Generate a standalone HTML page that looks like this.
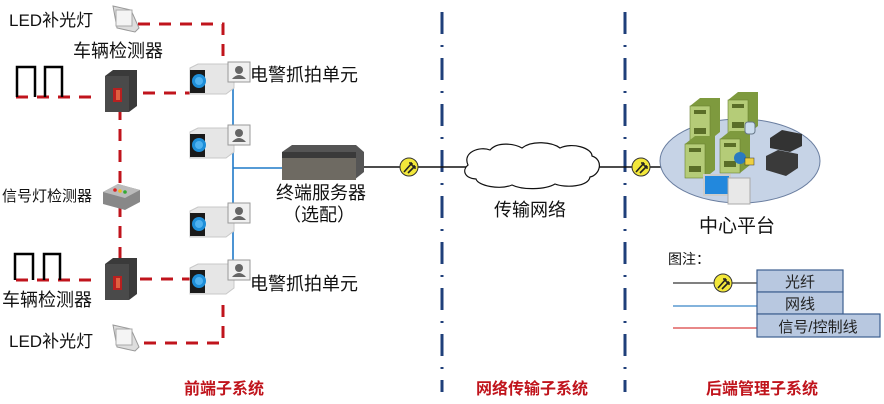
<!DOCTYPE html>
<html><head><meta charset="utf-8"><style>
body{margin:0;background:#fff}
svg{display:block;font-family:"Liberation Sans","Noto Sans CJK SC",sans-serif}
</style></head><body>
<svg width="884" height="404" viewBox="0 0 884 404" xmlns="http://www.w3.org/2000/svg">
<defs>
<g id="cam">
<path d="M0,4 L8,0 L44,0 L44,24 L36,30 L0,30 Z" fill="#e6e6e6" stroke="#c8c8c8"/>
<rect x="0" y="6" width="15" height="23" fill="#1a1a1a"/>
<circle cx="9" cy="17" r="7" fill="#1e8ed8"/>
<circle cx="9" cy="17" r="4" fill="#4fb2f0"/>
</g>
<g id="face">
<rect x="0" y="0" width="22" height="20" fill="#f0f0f0" stroke="#999"/>
<circle cx="11" cy="8" r="4" fill="#666"/>
<path d="M4,17 Q11,9 18,17 Z" fill="#666"/>
</g>
<g id="det">
<path d="M2,6 L10,0 L34,0 L34,36 L26,42 L2,42 Z" fill="#3a3a3a"/>
<path d="M2,6 L26,6 L26,42 L2,42Z" fill="#4a4a4a"/>
<rect x="10" y="18" width="9" height="14" fill="#b82020"/>
<rect x="13" y="20" width="4" height="10" fill="#e06040"/>
</g>
<g id="fib">
<circle r="9" fill="#f2e73a" stroke="#333" stroke-width="1"/>
<path d="M-5,5 L3,-4 M-1,6 L6,-1" stroke="#222" stroke-width="1.6"/>
<path d="M3,-4 l-3,0 M3,-4 l0,3 M6,-1 l-3,0 M6,-1 l0,3" stroke="#222" stroke-width="1.4"/>
</g>
<g id="led">
<path d="M0,0 L18,4 L26,22 L22,26 L4,22 Z" fill="#ddd" stroke="#999"/>
<rect x="3" y="4" width="16" height="16" fill="#f4f4f4" stroke="#aaa"/>
</g>
<g id="tower">
<path d="M0,8 L10,0 L30,0 L30,34 L20,42 L0,42 Z" fill="#7e9a3e"/>
<rect x="0" y="8" width="20" height="34" fill="#b5cc78" stroke="#6a8030" stroke-width="0.6"/>
<rect x="4" y="12" width="12" height="4" fill="#5a6e28"/>
<rect x="4" y="30" width="12" height="6" fill="#5a6e28"/>
</g>
</defs>

<line x1="442" y1="12" x2="442" y2="392" stroke="#1f3f7a" stroke-width="3" stroke-dasharray="22,11,2,11"/>
<line x1="625" y1="12" x2="625" y2="392" stroke="#1f3f7a" stroke-width="3" stroke-dasharray="22,11,2,11"/>

<g stroke="#c0141c" stroke-width="3" fill="none" stroke-dasharray="12,9">
<path d="M138,24 L223,24 L223,62"/>
<path d="M16,97 L97,97"/>
<path d="M143,93 L190,93"/>
<path d="M120,108 L120,186"/>
<path d="M120,205 L120,260"/>
<path d="M16,280 L97,280"/>
<path d="M140,279 L190,279"/>
<path d="M223,305 L223,343 L138,343"/>
</g>
<g stroke="#000" stroke-width="2.5" fill="none">
<path d="M17,97 L17,67 L35,67 L35,97"/>
<path d="M45,97 L45,67 L62,67 L62,97"/>
<path d="M15,280 L15,254 L33,254 L33,280"/>
<path d="M44,280 L44,254 L60,254 L60,280"/>
</g>

<g stroke="#1f7ac8" stroke-width="1.6">
<line x1="233" y1="88" x2="233" y2="275"/>
<line x1="233" y1="168" x2="282" y2="168"/>
</g>
<line x1="364" y1="167" x2="662" y2="167" stroke="#111" stroke-width="1.5"/>

<path d="M468,165 C462,152 480,146 490,150 C498,141 515,144 522,148 C532,140 552,142 560,148 C572,142 592,148 592,156 C604,160 600,175 590,177 C588,187 565,188 555,184 C545,190 522,190 512,185 C500,190 478,186 476,179 C464,178 462,170 468,165 Z" fill="#fff" stroke="#111" stroke-width="1.2"/>

<use href="#fib" x="409" y="167"/>
<use href="#fib" x="641" y="167"/>

<use href="#led" x="113" y="6"/>
<use href="#led" x="113" y="325"/>
<use href="#det" x="103" y="70"/>
<use href="#det" x="103" y="258"/>
<path d="M103,192 L118,184 L140,190 L140,202 L125,210 L103,204 Z" fill="#888"/>
<path d="M103,192 L118,184 L140,190 L125,198 Z" fill="#bbb"/>
<circle cx="115" cy="190" r="1.8" fill="#d22"/><circle cx="120" cy="191" r="1.8" fill="#eb2"/><circle cx="125" cy="192" r="1.8" fill="#3a3"/>

<use href="#cam" x="190" y="64"/>
<use href="#cam" x="190" y="128"/>
<use href="#cam" x="190" y="207"/>
<use href="#cam" x="190" y="264"/>
<use href="#face" x="228" y="62"/>
<use href="#face" x="228" y="125"/>
<use href="#face" x="228" y="203"/>
<use href="#face" x="228" y="260"/>

<path d="M282,152 L292,145 L356,145 L364,152 L364,172 L354,180 L282,180 Z" fill="#555"/>
<rect x="282" y="152" width="74" height="28" fill="#6e6a62"/>
<rect x="282" y="152" width="74" height="6" fill="#3a3a3a"/>

<ellipse cx="740" cy="161" rx="80" ry="42" fill="#c6d3e6" stroke="#6a7ea0" stroke-width="1"/>
<use href="#tower" x="690" y="98"/>
<use href="#tower" x="728" y="92"/>
<use href="#tower" x="685" y="136"/>
<use href="#tower" x="720" y="131"/>
<rect x="745" y="122" width="10" height="12" rx="3" fill="#cde" stroke="#678"/>
<circle cx="740" cy="158" r="6" fill="#2a7ac0"/><rect x="745" y="158" width="9" height="7" fill="#eed040" stroke="#333" stroke-width="0.5"/>
<path d="M770,138 L782,130 L802,134 L802,146 L790,152 L770,148 Z" fill="#333"/>
<path d="M766,156 L778,150 L798,154 L798,168 L786,176 L766,170 Z" fill="#3a3a3a"/>
<rect x="704" y="175" width="26" height="20" fill="#2288dd" stroke="#ccc" stroke-width="2"/>
<rect x="728" y="178" width="22" height="26" fill="#e8e8e8" stroke="#aaa"/>

<g font-size="17" fill="#111">
<text x="9" y="26">LED补光灯</text>
<text x="73" y="57" font-size="18">车辆检测器</text>
<text x="250" y="81" font-size="18">电警抓拍单元</text>
<text x="250" y="290" font-size="18">电警抓拍单元</text>
<text x="276" y="199" font-size="18">终端服务器</text>
<text x="283" y="221" font-size="18">（选配）</text>
<text x="2" y="201" font-size="15">信号灯检测器</text>
<text x="2" y="306" font-size="18">车辆检测器</text>
<text x="9" y="347">LED补光灯</text>
<text x="494" y="216" font-size="18">传输网络</text>
<text x="699" y="232" font-size="19">中心平台</text>
<text x="668" y="264" font-size="14">图注：</text>
</g>
<g font-size="16" fill="#c0141c" font-weight="bold" text-anchor="middle">
<text x="224" y="394">前端子系统</text>
<text x="532" y="394">网络传输子系统</text>
<text x="762" y="394">后端管理子系统</text>
</g>

<line x1="673" y1="283" x2="757" y2="283" stroke="#000" stroke-width="1"/>
<use href="#fib" x="723" y="283"/>
<line x1="673" y1="306" x2="757" y2="306" stroke="#5a9ad0" stroke-width="1.5"/>
<line x1="673" y1="328" x2="757" y2="328" stroke="#d01010" stroke-width="1"/>
<g fill="#b8c8e0" stroke="#3d5f8f" stroke-width="1.2">
<rect x="757" y="270" width="86" height="22"/>
<rect x="757" y="292" width="86" height="22"/>
<rect x="757" y="314" width="123" height="23"/>
</g>
<g font-size="15" fill="#222" text-anchor="middle">
<text x="800" y="287">光纤</text>
<text x="800" y="309">网线</text>
<text x="818" y="332">信号/控制线</text>
</g>
</svg>
</body></html>
